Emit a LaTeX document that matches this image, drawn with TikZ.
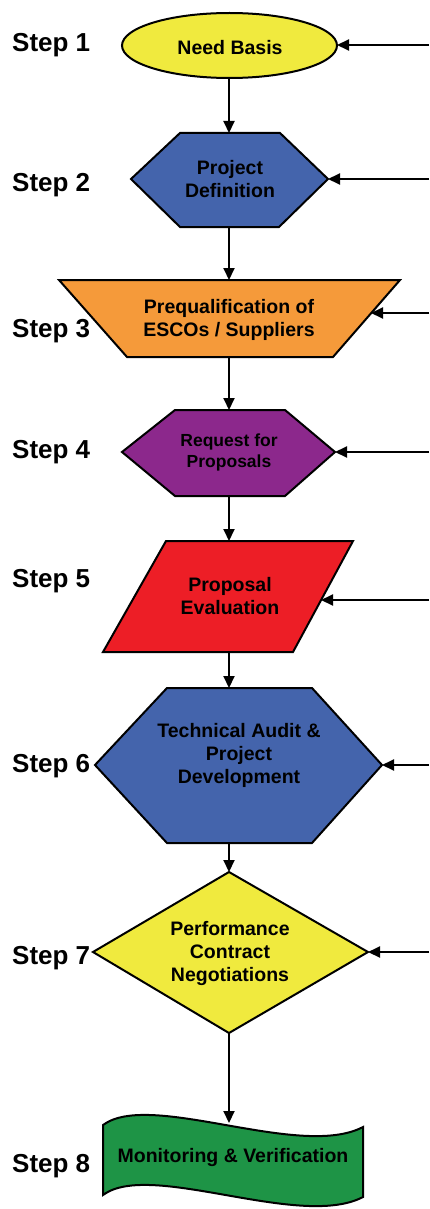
\documentclass[tikz,border=0pt]{standalone}
\usepackage{fontspec}
\setmainfont{Liberation Sans}
\usetikzlibrary{arrows.meta}
\definecolor{cyellow}{RGB}{240,234,62}
\definecolor{cblue}{RGB}{68,100,172}
\definecolor{corange}{RGB}{245,154,58}
\definecolor{cpurple}{RGB}{140,40,140}
\definecolor{cred}{RGB}{237,30,38}
\definecolor{cgreen}{RGB}{30,148,70}
\begin{document}
\begin{tikzpicture}[x=1pt,y=-1pt,
  shapebox/.style={draw=black, line width=2pt, line join=miter},
  steplabel/.style={anchor=base west, font=\fontsize{26}{30}\selectfont\bfseries, inner sep=0pt},
  boxtext/.style={align=center, font=\fontsize{19.5}{23}\selectfont\bfseries, inner sep=0pt},
  smalltext/.style={align=center, font=\fontsize{17.5}{21}\selectfont\bfseries, inner sep=0pt},
  flow/.style={line width=2pt, -{Triangle[length=12pt,width=11pt]}},
]
\useasboundingbox (0,0) rectangle (429,1209);

% Step 1: ellipse
\draw[shapebox, fill=cyellow] (229.5,45.5) ellipse [x radius=107.5pt, y radius=32.5pt];
\coordinate (s1b) at (229,78);
\coordinate (s1e) at (337,45);
\node[boxtext] (t1) at (230,48) {Need Basis};

% Step 2: hexagon
\draw[shapebox, fill=cblue] (131,179) -- (180,133) -- (280,133) -- (328,179) -- (279,227) -- (180,227) -- cycle;
\coordinate (s2t) at (229,133);
\coordinate (s2b) at (229,227);
\coordinate (s2e) at (328,179);
\node[boxtext] (t2) at (230,179) {Project\\Definition};

% Step 3: trapezoid
\draw[shapebox, fill=corange] (59,280) -- (400,280) -- (333,357) -- (127,357) -- cycle;
\coordinate (s3t) at (229,280);
\coordinate (s3b) at (229,357);
\coordinate (s3e) at (371,313);
\node[boxtext] (t3) at (229,320) {Prequalification of\\ESCOs / Suppliers};

% Step 4: hexagon
\draw[shapebox, fill=cpurple] (122,452) -- (175,410) -- (285,410) -- (335,452) -- (285,496) -- (175,496) -- cycle;
\coordinate (s4t) at (229,410);
\coordinate (s4b) at (229,496);
\coordinate (s4e) at (335,452);
\node[smalltext] (t4) at (229,452) {Request for\\Proposals};

% Step 5: parallelogram
\draw[shapebox, fill=cred] (166,541) -- (353,541) -- (293,652) -- (103,652) -- cycle;
\coordinate (s5t) at (229,541);
\coordinate (s5b) at (229,652);
\coordinate (s5e) at (321,600);
\node[boxtext] (t5) at (230,596) {Proposal\\Evaluation};

% Step 6: hexagon
\draw[shapebox, fill=cblue] (95,765) -- (167,688) -- (312,688) -- (382,765) -- (312,843) -- (167,843) -- cycle;
\coordinate (s6t) at (229,688);
\coordinate (s6b) at (229,843);
\coordinate (s6e) at (382,765);
\node[boxtext] (t6) at (239,755) {Technical Audit \&\\Project\\Development};

% Step 7: diamond
\draw[shapebox, fill=cyellow] (229,872) -- (368,952) -- (229,1033) -- (93,952) -- cycle;
\coordinate (s7t) at (229,872);
\coordinate (s7b) at (229,1033);
\coordinate (s7e) at (368,952);
\node[boxtext] (t7) at (230,953) {Performance\\Contract\\Negotiations};

% Step 8: tape
\draw[shapebox, fill=cgreen] (103,1125) .. controls (150,1090) and (300,1160) .. (363,1127) -- (363,1197) .. controls (300,1230) and (150,1160) .. (103,1195) -- cycle;
\coordinate (s8t) at (229,1123);
\node[boxtext] (t8) at (233,1157) {Monitoring \& Verification};

% vertical flow
\draw[flow] (s1b) -- (s2t);
\draw[flow] (s2b) -- (s3t);
\draw[flow] (s3b) -- (s4t);
\draw[flow] (s4b) -- (s5t);
\draw[flow] (s5b) -- (s6t);
\draw[flow] (s6b) -- (s7t);
\draw[flow] (s7b) -- (s8t);

% incoming arrows from the right
\coordinate (r1) at (429,45);
\coordinate (r2) at (429,179);
\coordinate (r3) at (429,313);
\coordinate (r4) at (429,452);
\coordinate (r5) at (429,600);
\coordinate (r6) at (429,765);
\coordinate (r7) at (429,952);
\draw[flow] (r1) -- (s1e);
\draw[flow] (r2) -- (s2e);
\draw[flow] (r3) -- (s3e);
\draw[flow] (r4) -- (s4e);
\draw[flow] (r5) -- (s5e);
\draw[flow] (r6) -- (s6e);
\draw[flow] (r7) -- (s7e);

% step labels
\node[steplabel] (l1) at (12,52) {Step 1};
\node[steplabel] (l2) at (12,191) {Step 2};
\node[steplabel] (l3) at (12,337) {Step 3};
\node[steplabel] (l4) at (12,458) {Step 4};
\node[steplabel] (l5) at (12,587) {Step 5};
\node[steplabel] (l6) at (12,772) {Step 6};
\node[steplabel] (l7) at (12,964) {Step 7};
\node[steplabel] (l8) at (12,1172) {Step 8};
\end{tikzpicture}
\end{document}
